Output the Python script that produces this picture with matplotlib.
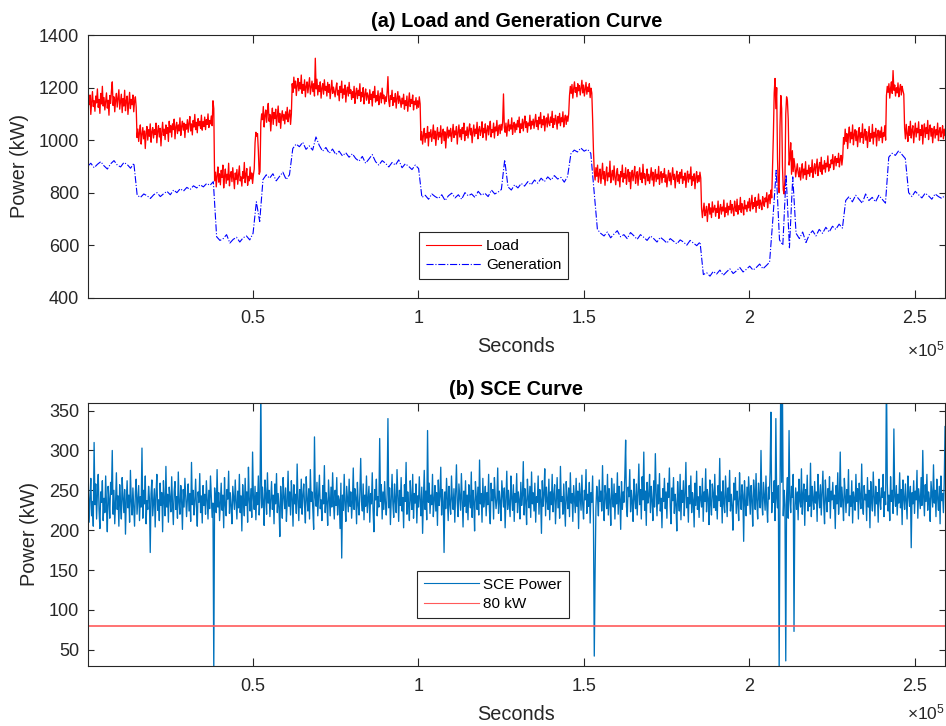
import numpy as np
import matplotlib
matplotlib.use('Agg')
from matplotlib import pyplot as plt
from matplotlib.ticker import FuncFormatter, MultipleLocator

plt.rcParams['font.family'] = ['Liberation Sans', 'DejaVu Sans']
plt.rcParams['mathtext.fontset'] = 'custom'
plt.rcParams['mathtext.rm'] = 'Liberation Sans'

T_END = 259200  # three days, in seconds

# load demand, one sample every ~250 s (kW)
load_kw = [
    1120, 1158, 1135, 1172, 1098, 1145, 1185, 1128, 1150, 1110, 1168, 1142, 1195, 1125, 1155, 1102, 1178, 1138, 1205, 1130,
    1162, 1115, 1148, 1180, 1122, 1152, 1095, 1170, 1140, 1188, 1222, 1132, 1165, 1108, 1150, 1178, 1126, 1160, 1192, 1118,
    1145, 1175, 1105, 1158, 1130, 1190, 1112, 1150, 1168, 1098, 1142, 1182, 1120, 1155, 1135, 1172, 1108, 1148, 1165, 1125,
    1010, 1042, 995, 1030, 1058, 985, 1022, 1048, 1005, 1035, 968, 1028, 1052, 1000, 1040, 1015, 1062, 992, 1032, 1048,
    1008, 1040, 1022, 1065, 990, 1035, 1055, 1012, 1045, 978, 1030, 1068, 1018, 1042, 1002, 1058, 1025, 1048, 995, 1072,
    1030, 1055, 1012, 1062, 1040, 1080, 1005, 1050, 1068, 1025, 1058, 1035, 1085, 1018, 1052, 1072, 1038, 1065, 1010, 1060,
    1042, 1078, 1030, 1065, 1090, 1035, 1062, 1020, 1075, 1050, 1098, 1040, 1068, 1028, 1082, 1055, 1072, 1045, 1095, 1038,
    1070, 1052, 1088, 1040, 1078, 1060, 1100, 1048, 1075, 1062, 1092, 1055, 1150, 1120, 845, 878, 822, 865, 898, 840,
    872, 830, 885, 858, 905, 818, 862, 890, 835, 870, 848, 912, 826, 866, 880, 842, 895, 856, 815, 875,
    850, 888, 832, 868, 902, 845, 860, 825, 880, 855, 915, 838, 870, 892, 828, 862, 845, 898, 852, 875,
    835, 868, 890, 990, 1030, 1015, 1025, 960, 870, 880, 1065, 1100, 1078, 1128, 1050, 1095, 1115, 1068, 1108, 1140,
    1072, 1098, 1035, 1085, 1122, 1060, 1105, 1082, 1118, 1055, 1092, 1130, 1068, 1102, 1045, 1088, 1112, 1075, 1098, 1062,
    1108, 1080, 1125, 1070, 1095, 1115, 1060, 1100, 1215, 1182, 1240, 1198, 1225, 1170, 1208, 1235, 1188, 1220, 1195, 1248,
    1178, 1212, 1190, 1230, 1165, 1205, 1222, 1180, 1210, 1238, 1175, 1200, 1225, 1185, 1215, 1168, 1312, 1195, 1232, 1172,
    1208, 1185, 1222, 1160, 1198, 1215, 1175, 1230, 1190, 1205, 1168, 1220, 1182, 1212, 1158, 1195, 1228, 1178, 1202, 1185,
    1165, 1198, 1218, 1172, 1190, 1150, 1205, 1182, 1225, 1160, 1195, 1175, 1210, 1145, 1188, 1202, 1168, 1220, 1178, 1192,
    1155, 1185, 1162, 1205, 1140, 1178, 1198, 1158, 1190, 1170, 1215, 1148, 1182, 1165, 1200, 1138, 1175, 1195, 1152, 1180,
    1168, 1140, 1192, 1155, 1175, 1130, 1185, 1162, 1205, 1145, 1170, 1150, 1188, 1135, 1165, 1180, 1142, 1198, 1158, 1172,
    1138, 1165, 1148, 1182, 1242, 1150, 1128, 1170, 1155, 1190, 1132, 1162, 1145, 1178, 1122, 1158, 1185, 1140, 1168, 1150,
    1125, 1160, 1138, 1175, 1118, 1150, 1132, 1168, 1110, 1145, 1180, 1128, 1155, 1140, 1172, 1115, 1148, 1135, 1162, 1120,
    1150, 1125, 1165, 1138, 1000, 1032, 985, 1018, 1045, 992, 1025, 1008, 1052, 978, 1030, 1012, 1040, 995, 1022, 1058,
    1005, 1035, 980, 1020, 1048, 1002, 1030, 1012, 1055, 988, 1025, 1042, 998, 1032, 970, 1018, 1050, 1008, 1038, 1015,
    1045, 995, 1028, 1060, 1010, 1035, 1020, 1052, 985, 1030, 1058, 1012, 1040, 1002, 1048, 1025, 1065, 998, 1035, 1018,
    1050, 1008, 1038, 1062, 1020, 1045, 990, 1032, 1058, 1015, 1042, 1025, 1068, 1005, 1040, 1052, 1018, 1035, 1070, 1010,
    1045, 1028, 1062, 1000, 1038, 1055, 1020, 1048, 1072, 1012, 1040, 1030, 1065, 1008, 1050, 1035, 1075, 1018, 1045, 1058,
    1025, 1060, 1038, 1070, 1176, 1048, 1030, 1065, 1015, 1052, 1078, 1035, 1058, 1042, 1085, 1022, 1055, 1068, 1030, 1062,
    1040, 1075, 1050, 1088, 1028, 1062, 1045, 1080, 1035, 1068, 1092, 1048, 1070, 1030, 1065, 1055, 1095, 1042, 1072, 1058,
    1080, 1045, 1070, 1098, 1052, 1075, 1040, 1088, 1062, 1105, 1048, 1078, 1058, 1092, 1035, 1072, 1085, 1050, 1100, 1065,
    1055, 1088, 1068, 1110, 1048, 1082, 1060, 1095, 1075, 1042, 1090, 1065, 1102, 1055, 1085, 1070, 1108, 1050, 1080, 1095,
    1060, 1092, 1072, 1100, 1170, 1205, 1178, 1212, 1160, 1195, 1222, 1182, 1200, 1165, 1215, 1188, 1208, 1172, 1198, 1228,
    1180, 1210, 1168, 1195, 1220, 1175, 1202, 1185, 1215, 1162, 1198, 1180, 1080, 960, 880, 848, 895, 862, 905, 840,
    872, 890, 835, 868, 912, 852, 880, 828, 870, 898, 845, 875, 860, 920, 838, 866, 885, 848, 902, 858,
    830, 875, 892, 845, 868, 822, 880, 860, 905, 840, 872, 855, 895, 832, 865, 888, 842, 878, 815, 862,
    885, 845, 870, 900, 835, 862, 880, 828, 868, 895, 850, 875, 838, 908, 855, 872, 830, 865, 890, 845,
    870, 835, 862, 895, 848, 878, 825, 860, 888, 842, 870, 852, 900, 832, 865, 880, 838, 872, 858, 892,
    840, 868, 822, 858, 885, 845, 875, 830, 862, 895, 850, 870, 818, 860, 882, 842, 868, 835, 878, 855,
    888, 835, 862, 848, 875, 820, 858, 882, 840, 870, 852, 898, 828, 862, 845, 872, 815, 858, 880, 838,
    865, 842, 878, 855, 740, 705, 732, 760, 712, 728, 748, 690, 735, 758, 718, 742, 705, 765, 725, 738,
    752, 710, 740, 725, 768, 702, 738, 755, 718, 745, 730, 772, 708, 742, 725, 760, 715, 748, 735, 770,
    722, 755, 738, 712, 768, 745, 728, 775, 718, 750, 735, 782, 725, 758, 742, 715, 770, 738, 752, 728,
    765, 742, 778, 730, 758, 790, 738, 762, 748, 782, 725, 768, 752, 795, 740, 772, 758, 735, 785, 762,
    748, 780, 765, 800, 742, 775, 792, 758, 810, 780, 900, 1020, 1180, 1235, 1120, 1200, 930, 820, 800, 1050,
    1170, 1120, 900, 810, 795, 850, 1100, 1165, 1150, 1080, 905, 930, 990, 870, 960, 880, 930, 900, 860, 885,
    910, 875, 860, 895, 848, 882, 910, 855, 890, 868, 918, 850, 885, 872, 905, 862, 895, 878, 925, 858,
    888, 910, 872, 902, 928, 865, 895, 915, 880, 935, 870, 905, 890, 922, 878, 912, 898, 940, 882, 908,
    895, 925, 910, 945, 888, 920, 938, 902, 930, 915, 950, 898, 928, 942, 905, 935, 1010, 985, 1042, 995,
    1025, 968, 1018, 1050, 990, 1030, 1005, 1058, 982, 1022, 1040, 998, 1035, 975, 1015, 1048, 992, 1028, 1010, 1062,
    988, 1020, 1042, 1000, 1032, 972, 1015, 1052, 995, 1025, 1008, 1060, 985, 1030, 1012, 1045, 978, 1022, 1038, 998,
    1035, 1010, 1050, 990, 1028, 1015, 1055, 1000, 1170, 1205, 1182, 1215, 1160, 1198, 1222, 1178, 1265, 1190, 1210, 1168,
    1200, 1180, 1218, 1165, 1195, 1212, 1172, 1205, 1188, 1175, 1045, 1005, 1060, 1025, 995, 1052, 1018, 1072, 1008, 1038,
    1055, 990, 1032, 1065, 1012, 1045, 1028, 1070, 1000, 1040, 1018, 1058, 985, 1035, 1062, 1010, 1048, 1025, 1075, 1002,
    1038, 1058, 1015, 1045, 990, 1030, 1052, 1008, 1040, 1020, 1065, 998, 1035, 1048, 1012, 1030, 1055, 1005, 1042, 1018,
]

# generation, one sample every ~1000 s (kW)
generation_kw = [
    900, 912, 895, 908, 918, 902, 890, 910, 922, 905, 898, 915, 907, 893, 912,
    790, 782, 795, 788, 778, 792, 800, 785, 796, 805, 792, 810, 800, 815, 806, 820, 812, 826, 818, 830, 822, 835, 828,
    842,
    632, 618, 625, 640, 608, 622, 630, 612, 628, 635, 620, 645,
    765, 690,
    850, 868, 855, 872, 845, 862, 878, 850, 868,
    968, 985, 975, 992, 965, 978, 962, 1012, 980, 958, 972, 950, 966, 945, 958, 940, 952, 935, 948, 930,
    920, 938, 912, 928, 945, 918, 905, 922, 912, 898, 915, 905, 925, 895, 910, 900, 888, 905, 892,
    782, 790, 775, 795, 785, 778, 792, 770, 788, 798, 780, 792, 775, 800, 788, 795, 782, 805, 790, 798,
    785, 810, 795, 802, 812,
    925,
    822, 810, 830, 818, 835, 825, 842, 830, 848, 836, 855, 842, 860, 848, 865, 852, 858, 840, 862,
    948, 962, 955, 970, 958, 965, 950,
    805, 660, 645, 635, 650, 628, 642, 655, 632, 640, 625, 648, 636, 622, 640, 630, 618, 635, 625, 612,
    630, 620, 608, 625, 615, 605, 620, 612, 600, 618, 608, 598, 612,
    488, 495, 482, 500, 490, 505, 485, 498, 510, 492, 502, 515, 498, 508, 520, 505, 515, 528, 510, 522, 535,
    700, 885, 620, 600, 868, 590, 860, 645,
    625, 650, 610, 640, 655, 635, 660, 645, 668, 650, 672, 660, 680, 665,
    770, 785, 765, 790, 775, 760, 795, 770, 782, 765, 790, 775, 760,
    935, 950, 942, 960, 945, 930,
    800, 785, 805, 792, 780, 798, 788, 775, 795, 785, 778, 790,
]

# SCE power, one sample every ~250 s (kW)
sce_kw = [
    228, 252, 210, 241, 265, 218, 236, 205, 310, 232, 258, 214, 246, 270, 225, 202, 248, 235, 262, 212,
    240, 222, 268, 230, 198, 255, 238, 215, 260, 245, 300, 220, 250, 208, 235, 272, 226, 243, 205, 257,
    232, 214, 266, 240, 222, 251, 195, 238, 262, 228, 244, 210, 275, 236, 219, 253, 230, 205, 248, 264,
    220, 238, 256, 212, 242, 229, 303, 215, 250, 233, 268, 208, 237, 226, 255, 240, 172, 246, 263, 218,
    235, 252, 204, 244, 270, 225, 238, 212, 259, 231, 247, 198, 262, 236, 218, 280, 229, 245, 210, 254,
    240, 223, 267, 233, 207, 249, 261, 226, 242, 215, 273, 234, 220, 256, 238, 201, 251, 229, 265, 243,
    217, 239, 258, 224, 246, 211, 285, 232, 250, 219, 237, 264, 228, 205, 248, 235, 271, 222, 243, 209,
    256, 231, 245, 220, 262, 238, 214, 250, 227, 268, 242, 216, 234, 25, 253, 240, 222, 276, 229, 247,
    212, 236, 259, 225, 244, 203, 266, 232, 218, 251, 239, 274, 221, 247, 230, 208, 255, 241, 226, 263,
    235, 214, 249, 228, 270, 222, 243, 199, 257, 236, 218, 265, 231, 248, 210, 279, 238, 224, 252, 216,
    298, 240, 226, 255, 213, 247, 232, 268, 219, 241, 380, 228, 254, 237, 206, 263, 245, 220, 272, 234,
    250, 217, 239, 261, 226, 244, 208, 258, 233, 271, 222, 246, 229, 192, 255, 238, 215, 266, 242, 227,
    253, 211, 236, 274, 230, 248, 219, 262, 240, 205, 257, 233, 245, 221, 283, 237, 212, 251, 228, 264,
    220, 243, 258, 231, 209, 267, 239, 224, 252, 214, 276, 236, 248, 226, 201, 317, 241, 230, 260, 218,
    245, 269, 227, 238, 212, 256, 233, 281, 222, 247, 235, 206, 263, 240, 218, 254, 229, 272, 236, 214,
    250, 231, 266, 219, 243, 238, 202, 259, 165, 244, 225, 270, 233, 211, 255, 240, 223, 264, 230, 248,
    215, 237, 278, 226, 252, 241, 208, 260, 232, 219, 247, 290, 236, 224, 258, 213, 244, 230, 268, 222,
    239, 255, 210, 246, 233, 272, 225, 198, 251, 238, 264, 218, 242, 229, 315, 236, 257, 214, 248, 226,
    261, 234, 219, 245, 340, 228, 253, 207, 240, 270, 232, 216, 258, 237, 222, 276, 243, 211, 250, 231,
    266, 224, 241, 203, 257, 236, 285, 220, 248, 232, 212, 262, 239, 226, 270, 215, 246, 234, 258, 209,
    243, 229, 267, 237, 218, 254, 196, 240, 275, 226, 249, 213, 325, 235, 259, 221, 244, 232, 270, 217,
    238, 256, 224, 247, 206, 263, 231, 242, 279, 219, 251, 236, 172, 248, 227, 265, 240, 212, 255, 233,
    220, 268, 239, 226, 252, 210, 245, 282, 234, 217, 258, 241, 225, 271, 237, 204, 249, 230, 262, 222,
    244, 213, 257, 238, 228, 273, 216, 250, 235, 199, 261, 242, 226, 254, 219, 288, 233, 246, 210, 265,
    229, 240, 255, 218, 247, 232, 270, 224, 208, 259, 237, 251, 214, 266, 243, 227, 238, 278, 221, 249,
    236, 212, 262, 245, 229, 253, 203, 241, 274, 226, 250, 233, 217, 268, 240, 225, 257, 211, 246, 235,
    271, 222, 248, 238, 214, 260, 231, 243, 286, 219, 252, 236, 207, 264, 241, 228, 255, 216, 273, 233,
    247, 224, 259, 210, 242, 235, 268, 220, 251, 239, 196, 262, 230, 245, 277, 218, 254, 237, 226, 264,
    213, 248, 232, 270, 223, 244, 257, 208, 239, 266, 228, 251, 215, 280, 236, 242, 220, 258, 233, 205,
    261, 240, 227, 253, 217, 272, 234, 246, 211, 256, 238, 222, 265, 230, 249, 202, 259, 243, 225, 269,
    232, 214, 250, 238, 276, 221, 245, 230, 260, 209, 247, 235, 268, 215, 42, 148, 228, 255, 240, 218,
    263, 236, 249, 224, 281, 231, 212, 256, 243, 227, 270, 219, 252, 237, 206, 265, 241, 229, 258, 214,
    246, 233, 272, 220, 255, 239, 201, 261, 226, 248, 235, 268, 313, 230, 217, 254, 242, 276, 223, 250,
    236, 211, 264, 240, 227, 258, 219, 245, 283, 232, 251, 214, 267, 238, 298, 225, 249, 206, 260, 234,
    243, 270, 222, 255, 237, 212, 262, 229, 296, 246, 218, 257, 233, 271, 224, 240, 203, 252, 236, 265,
    227, 248, 215, 259, 241, 278, 230, 208, 253, 237, 266, 221, 245, 232, 199, 261, 239, 224, 270, 213,
    250, 235, 262, 218, 244, 285, 228, 241, 210, 256, 233, 268, 222, 247, 238, 204, 259, 231, 274, 226,
    242, 216, 255, 239, 229, 265, 211, 248, 236, 277, 223, 251, 240, 207, 263, 232, 219, 258, 245, 228,
    270, 225, 243, 214, 256, 237, 290, 230, 248, 209, 262, 234, 222, 268, 241, 217, 253, 236, 275, 224,
    245, 230, 200, 259, 238, 266, 221, 249, 233, 212, 272, 240, 226, 257, 244, 186, 262, 235, 218, 254,
    231, 267, 242, 220, 256, 237, 205, 263, 248, 226, 271, 234, 214, 259, 241, 228, 300, 236, 219, 260,
    243, 225, 268, 232, 210, 254, 239, 273, 348, 222, 247, 235, 262, 212, 340, 240, 228, 256, 20, 245,
    400, 260, 375, 218, 250, 232, 36, 244, 266, 215, 325, 238, 222, 255, 241, 270, 73, 231, 253, 226,
    248, 213, 264, 237, 229, 277, 220, 245, 258, 206, 251, 236, 269, 224, 243, 230, 284, 217, 255, 239,
    226, 261, 234, 248, 211, 270, 242, 228, 257, 219, 246, 274, 232, 208, 263, 240, 223, 252, 236, 267,
    215, 249, 238, 260, 227, 244, 202, 256, 233, 272, 220, 241, 298, 229, 254, 236, 212, 265, 245, 222,
    251, 234, 276, 218, 243, 230, 262, 209, 248, 239, 225, 270, 236, 252, 214, 259, 241, 227, 283, 232,
    220, 256, 238, 245, 212, 266, 229, 250, 203, 261, 237, 224, 273, 242, 218, 255, 233, 247, 210, 264,
    238, 226, 253, 241, 270, 217, 248, 232, 400, 259, 224, 244, 212, 267, 236, 250, 221, 327, 242, 230,
    256, 219, 245, 234, 272, 228, 251, 207, 263, 240, 226, 258, 236, 214, 268, 243, 230, 255, 178, 247,
    233, 262, 221, 249, 238, 275, 215, 252, 240, 227, 266, 231, 300, 244, 218, 257, 236, 270, 225, 248,
    239, 211, 261, 244, 229, 282, 234, 250, 217, 264, 240, 225, 255, 208, 268, 237, 246, 222, 259, 330,
]

threshold_kw = 80

t_load = np.linspace(1, T_END, len(load_kw))
t_gen = np.linspace(1, T_END, len(generation_kw))
t_sce = np.linspace(1, T_END, len(sce_kw))

AX_COLOR = '#262626'


def style_axes(ax, exp_y):
    ax.set_xlim(1, T_END)
    ax.xaxis.set_major_locator(MultipleLocator(50000))
    ax.xaxis.set_major_formatter(FuncFormatter(lambda v, p: f'{v / 1e5:g}'))
    ax.tick_params(direction='in', top=True, right=True, colors=AX_COLOR,
                   labelsize=13, width=0.8)
    ax.tick_params(axis='x', length=5.5, pad=9)
    ax.tick_params(axis='y', length=4.2, pad=6)
    for s in ax.spines.values():
        s.set_color(AX_COLOR)
        s.set_linewidth(0.8)
    ax.set_xlabel('Seconds', fontsize=14.3, color=AX_COLOR, labelpad=7)
    ax.set_ylabel('Power (kW)', fontsize=14.3, color=AX_COLOR, labelpad=7)
    # axis multiplier in the lower right corner
    ax.text(1.0, exp_y, r'$\times\mathregular{10^{5}}$', transform=ax.transAxes,
            ha='right', va='top', fontsize=12.5, color=AX_COLOR)


def add_legend(ax, anchor):
    leg = ax.legend(loc='lower left', bbox_to_anchor=anchor, fontsize=11,
                    fancybox=False, framealpha=1, handlelength=3.6, handletextpad=0.3,
                    borderpad=0.45, labelspacing=0.35, borderaxespad=0)
    leg.get_frame().set_edgecolor(AX_COLOR)
    leg.get_frame().set_linewidth(0.8)
    for line in leg.get_lines():
        line.set_linewidth(0.8)
    return leg


fig = plt.figure(figsize=(9.46, 7.26), dpi=100)
ax1 = fig.add_axes([0.0925, 0.590, 0.9065, 0.3616])
ax2 = fig.add_axes([0.0925, 0.0831, 0.9065, 0.3623])

# (a) load and generation
ax1.plot(t_load, load_kw, color='r', lw=0.95, label='Load')
ax1.plot(t_gen, generation_kw, color='b', lw=0.8, ls='-.', label='Generation')
ax1.set_ylim(400, 1400)
ax1.yaxis.set_major_locator(MultipleLocator(200))
style_axes(ax1, -0.16)
ax1.set_title('(a) Load and Generation Curve', fontsize=14.3, fontweight='bold', pad=5.5)
add_legend(ax1, (0.387, 0.07))

# (b) SCE power against the 80 kW limit
ax2.plot(t_sce, sce_kw, color='#0072BD', lw=0.95, label='SCE Power')
ax2.axhline(threshold_kw, color='#ff5a5a', lw=1.2, label='80 kW')
ax2.set_ylim(30, 360)
ax2.yaxis.set_major_locator(MultipleLocator(50))
style_axes(ax2, -0.14)
ax2.set_title('(b) SCE Curve', fontsize=14.3, fontweight='bold', pad=5.5)
add_legend(ax2, (0.384, 0.181))

fig.savefig('out.png', dpi=100)
